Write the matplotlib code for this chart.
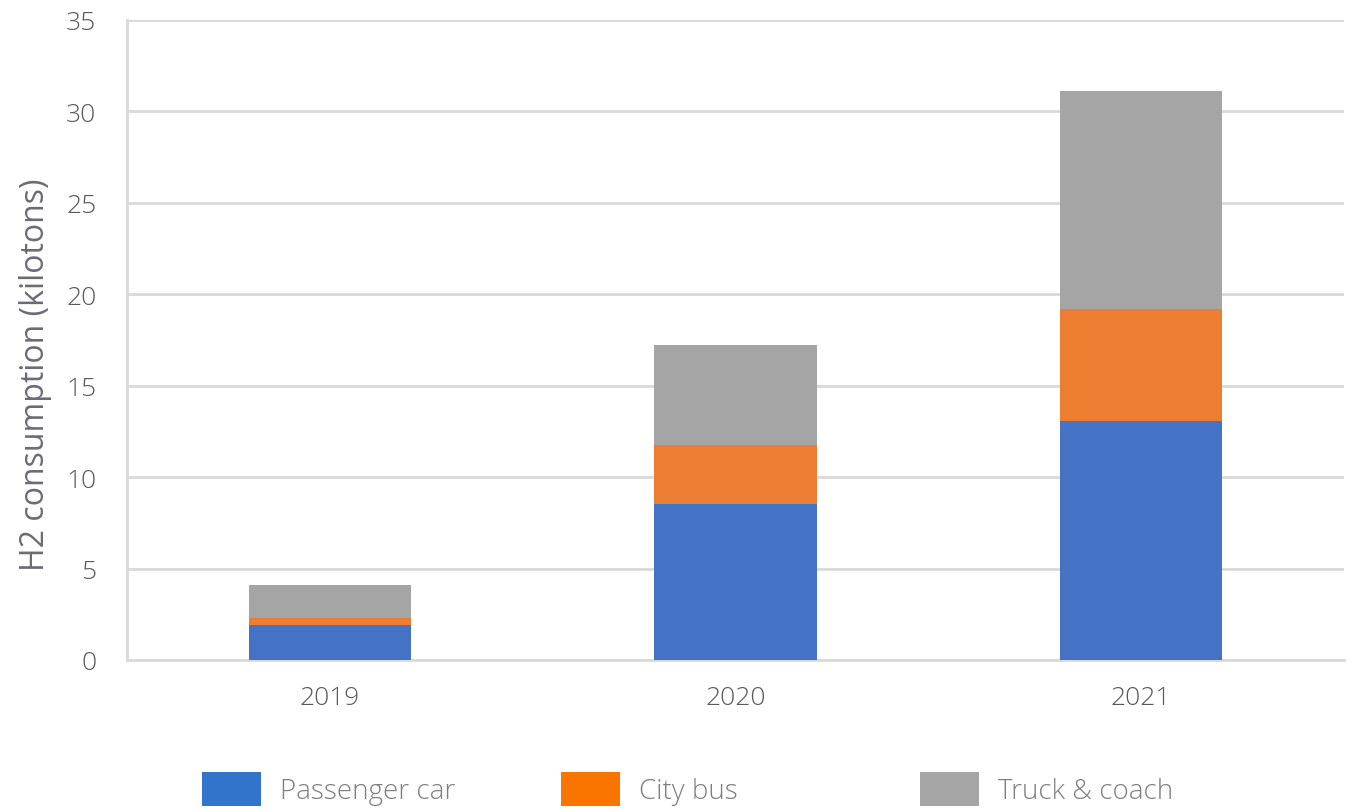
import matplotlib.pyplot as plt
from matplotlib.patches import Patch

# data
years = ['2019', '2020', '2021']
passenger_car = [1.9, 8.52, 13.08]
city_bus = [0.37, 3.25, 6.1]
truck_coach = [1.85, 5.45, 11.95]

series_names = ['Passenger car', 'City bus', 'Truck & coach']
bar_colors = ['#4472C4', '#ED7D31', '#A5A5A5']
legend_colors = ['#3273CC', '#FA7500', '#A5A5A5']

plt.rcParams['font.family'] = ['Open Sans', 'DejaVu Sans']
plt.rcParams['font.weight'] = 300

fig = plt.figure(figsize=(13.57, 8.12), dpi=100)
ax = fig.add_axes([127 / 1357, 1 - 661 / 812, (1344 - 127) / 1357, (661 - 21) / 812])

x = range(len(years))
bottom2 = [a + b for a, b in zip(passenger_car, city_bus)]
ax.bar(x, passenger_car, width=0.4, color=bar_colors[0], zorder=3)
ax.bar(x, city_bus, width=0.4, bottom=passenger_car, color=bar_colors[1], zorder=3)
ax.bar(x, truck_coach, width=0.4, bottom=bottom2, color=bar_colors[2], zorder=3)

ax.set_xlim(-0.5, 2.5)
ax.set_ylim(0, 35)
ax.set_yticks(range(0, 36, 5))
ax.set_xticks(list(x))
ax.set_xticklabels(years)
ax.grid(axis='y', color='#D9D9D9', linewidth=2, zorder=0)
for s in ['top', 'right']:
    ax.spines[s].set_visible(False)
for s in ['left', 'bottom']:
    ax.spines[s].set_color('#D9D9D9')
    ax.spines[s].set_linewidth(2)
ax.tick_params(length=0, labelsize=19, labelcolor='#595959', pad=22)
ax.tick_params(axis='x', pad=18)
ax.set_ylabel('H2 consumption (kilotons)', fontsize=23, color='#6B6B78')
ax.yaxis.set_label_coords(-0.062, 0.448)

# legend: fixed-width entries along the bottom
legend_x = [203, 562, 921]
for name, col, lx in zip(series_names, legend_colors, legend_x):
    fig.legend(handles=[Patch(facecolor=col, edgecolor='none')], labels=[name],
               loc='center left', bbox_to_anchor=(lx / 1357 - 0.019, 1 - 790 / 812),
               frameon=False, fontsize=20, labelcolor='#7F7F7F',
               handlelength=2.1, handleheight=1.55, handletextpad=0.7)

fig.savefig('out.png', dpi=100)
